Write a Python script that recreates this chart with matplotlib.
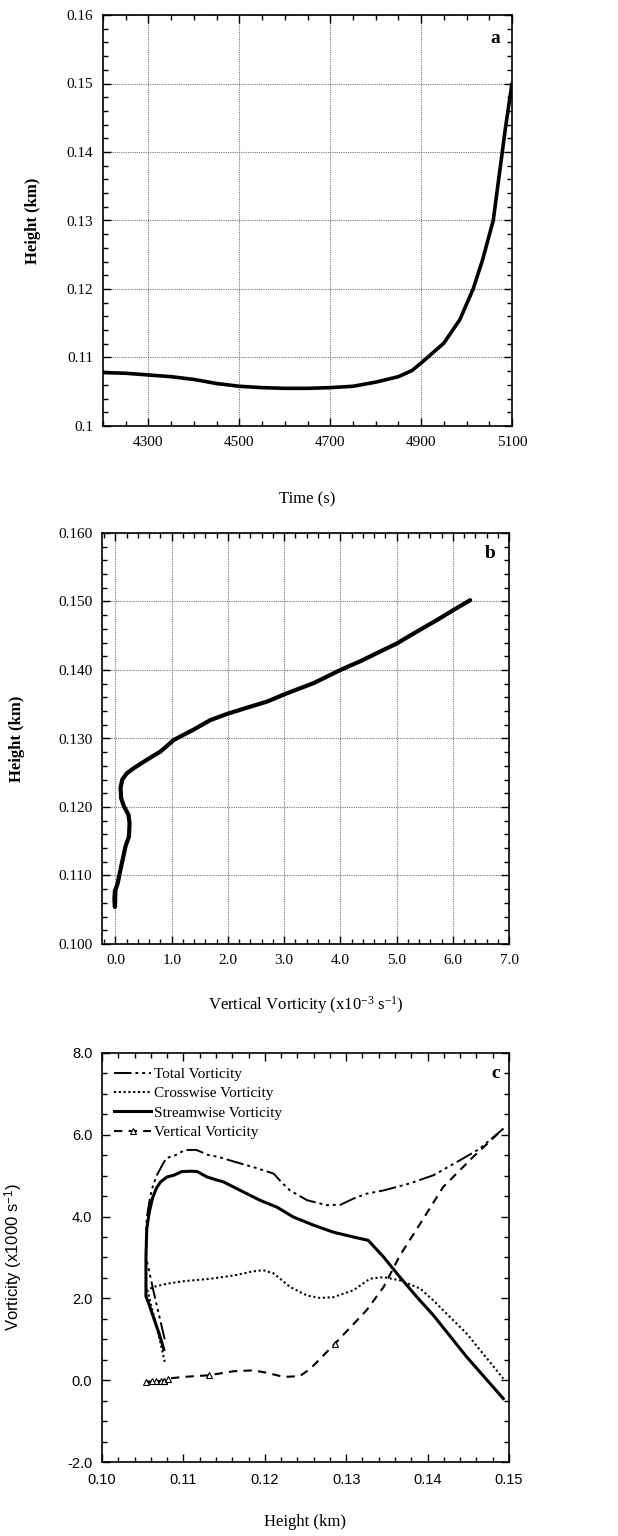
import matplotlib
matplotlib.use("Agg")
import matplotlib.pyplot as plt
from matplotlib.ticker import MultipleLocator, FormatStrFormatter

plt.rcParams['font.family'] = ['Liberation Serif', 'DejaVu Serif']
plt.rcParams['mathtext.fontset'] = 'custom'
plt.rcParams['mathtext.rm'] = 'Liberation Serif'
plt.rcParams['mathtext.it'] = 'Liberation Serif:italic'
plt.rcParams['mathtext.sf'] = 'Liberation Sans'

# ---------------- Panel a: height vs time ----------------
time_s = [4200, 4250, 4300, 4350, 4400, 4450, 4500, 4550, 4600, 4650, 4700, 4750, 4800, 4850,
          4880, 4900, 4914, 4950, 4985, 5014.5, 5035, 5058.7, 5078.6, 5086, 5100]
height_a = [0.1078, 0.1077, 0.10745, 0.1072, 0.1068, 0.1062, 0.1058, 0.1056, 0.1055, 0.1055,
            0.1056, 0.1058, 0.1064, 0.1072, 0.1081, 0.1092, 0.1100, 0.1121, 0.1155, 0.1200,
            0.1242, 0.1300, 0.1400, 0.1437, 0.1500]

# ---------------- Panel b: height vs vertical vorticity ----------------
vort_b = [-0.01, -0.02, -0.01, 0.0, 0.04, 0.10, 0.18, 0.24, 0.25, 0.23, 0.15, 0.10, 0.09, 0.12,
          0.20, 0.33, 0.56, 0.80, 1.04, 1.39, 1.69, 1.99, 2.34, 2.70, 3.05, 3.53, 4.00, 4.36,
          4.71, 5.01, 5.36, 5.72, 6.02, 6.31]
height_b = [0.1078, 0.1066, 0.1054, 0.1079, 0.1089, 0.1113, 0.1143, 0.1157, 0.1177, 0.1189,
            0.1201, 0.1213, 0.1228, 0.1240, 0.1249, 0.1257, 0.1269, 0.1281, 0.1298, 0.1313,
            0.1327, 0.1336, 0.1345, 0.1354, 0.1366, 0.1381, 0.1400, 0.1413, 0.1427, 0.1439,
            0.1456, 0.1473, 0.1488, 0.1502]

# ---------------- Panel c: vorticity components vs height ----------------
total_h = [0.1077, 0.1070, 0.1063, 0.1057, 0.1054, 0.1054, 0.1055, 0.1058, 0.1061, 0.1067, 0.1073,
           0.1079, 0.1090, 0.1102, 0.1116, 0.1130, 0.1143, 0.1163, 0.1186, 0.1211, 0.1220, 0.1231,
           0.1252, 0.1276, 0.1293, 0.1309, 0.1325, 0.1346, 0.1378, 0.1407, 0.1440, 0.1464, 0.1493]
total_v = [1.0, 1.6, 2.2, 2.75, 3.0, 3.5, 3.97, 4.35, 4.65, 5.0, 5.22, 5.43, 5.5, 5.63, 5.63, 5.51,
           5.46, 5.34, 5.21, 5.05, 4.85, 4.64, 4.40, 4.28, 4.29, 4.44, 4.56, 4.64, 4.81, 5.01,
           5.38, 5.66, 6.15]

cross_h = [0.1077, 0.1072, 0.1066, 0.1060, 0.1056, 0.1063, 0.1080, 0.1100, 0.1133, 0.1162, 0.1185,
           0.1198, 0.1211, 0.1231, 0.1252, 0.1268, 0.1284, 0.1309, 0.1329, 0.1346, 0.1366, 0.1391,
           0.1407, 0.1448, 0.1493]
cross_v = [0.45, 0.9, 1.4, 1.85, 2.2, 2.28, 2.36, 2.42, 2.48, 2.56, 2.66, 2.69, 2.61, 2.28, 2.07,
           2.01, 2.03, 2.20, 2.48, 2.52, 2.44, 2.24, 1.95, 1.14, 0.04]

stream_h = [0.1076, 0.1070, 0.1063, 0.1057, 0.1054, 0.1054, 0.1055, 0.1058, 0.1062, 0.1067, 0.1072,
            0.1080, 0.1088, 0.1098, 0.1110, 0.1117, 0.1129, 0.1140, 0.1149, 0.1170, 0.1194, 0.1215,
            0.1235, 0.1260, 0.1284, 0.1309, 0.1327, 0.1346, 0.1366, 0.1387, 0.1407, 0.1448, 0.1493]
stream_v = [0.75, 1.15, 1.55, 1.90, 2.05, 3.0, 3.7, 4.1, 4.45, 4.70, 4.85, 4.97, 5.01, 5.10, 5.11,
            5.10, 4.97, 4.90, 4.85, 4.64, 4.40, 4.23, 3.99, 3.79, 3.62, 3.50, 3.42, 3.01, 2.52,
            2.03, 1.59, 0.57, -0.45]

vert_h = [0.1076, 0.1066, 0.1061, 0.1054, 0.1073, 0.1076, 0.1081, 0.1100, 0.1131, 0.1162, 0.1186,
          0.1203, 0.1223, 0.1243, 0.1256, 0.1286, 0.1325, 0.1346, 0.1366, 0.1391, 0.1419, 0.1456,
          0.1493]
vert_v = [-0.02, -0.03, -0.03, -0.04, -0.03, -0.02, 0.04, 0.08, 0.12, 0.22, 0.24, 0.18, 0.08, 0.10,
          0.28, 0.89, 1.71, 2.28, 3.05, 3.83, 4.72, 5.46, 6.15]
vert_marks = [0, 1, 2, 3, 4, 5, 6, 8, 15]

legend_labels = ["Total Vorticity", "Crosswise Vorticity", "Streamwise Vorticity", "Vertical Vorticity"]

W, H = 618, 1536
fig = plt.figure(figsize=(W / 100, H / 100), dpi=100)


def box(l, r, t, b):
    return [l / W, 1 - b / H, (r - l) / W, (b - t) / H]


def style(ax):
    ax.tick_params(which='both', direction='in', top=True, right=True, width=1.0)
    ax.tick_params(which='major', length=6, pad=7, labelsize=11)
    ax.tick_params(which='minor', length=3.5)
    for s in ax.spines.values():
        s.set_linewidth(1.2)


# Panel a
axa = fig.add_axes(box(103, 512, 15, 426))
axa.plot(time_s, height_a, color='black', lw=2.6, solid_capstyle='round', solid_joinstyle='round')
axa.set_xlim(4200, 5100)
axa.set_ylim(0.1, 0.16)
axa.set_xticks([4300, 4500, 4700, 4900, 5100])
axa.xaxis.set_minor_locator(MultipleLocator(50))
axa.yaxis.set_minor_locator(MultipleLocator(0.002))
axa.set_yticks([0.1, 0.11, 0.12, 0.13, 0.14, 0.15, 0.16])
axa.set_yticklabels(['0.1', '0.11', '0.12', '0.13', '0.14', '0.15', '0.16'])
axa.grid(True, which='major', color='#777777', linestyle=(0, (1, 1)), linewidth=0.8)
style(axa)
axa.set_xlabel('Time (s)', fontsize=12)
axa.xaxis.set_label_coords(0.5, -0.158)
axa.set_ylabel('Height (km)', fontsize=12, fontweight='bold')
axa.yaxis.set_label_coords(-0.152, 0.5)
axa.text(0.958, 0.944, 'a', transform=axa.transAxes, fontsize=14, fontweight='bold',
         ha='center', va='center')

# Panel b
axb = fig.add_axes(box(102, 509, 533, 944))
axb.plot(vort_b, height_b, color='black', lw=3.0, solid_capstyle='round', solid_joinstyle='round')
axb.set_xlim(-0.24, 7.0)
axb.set_ylim(0.1, 0.16)
axb.xaxis.set_major_locator(MultipleLocator(1.0))
axb.xaxis.set_minor_locator(MultipleLocator(0.2))
axb.xaxis.set_major_formatter(FormatStrFormatter('%.1f'))
axb.yaxis.set_major_locator(MultipleLocator(0.01))
axb.yaxis.set_minor_locator(MultipleLocator(0.002))
axb.yaxis.set_major_formatter(FormatStrFormatter('%.3f'))
axb.grid(True, which='major', color='#777777', linestyle=(0, (1, 1)), linewidth=0.8)
style(axb)
axb.set_xlabel('Vertical Vorticity (x10$^{-3}$ s$^{-1}$)', fontsize=12)
axb.xaxis.set_label_coords(0.5, -0.122)
axb.set_ylabel('Height (km)', fontsize=12, fontweight='bold')
axb.yaxis.set_label_coords(-0.189, 0.5)
axb.text(0.953, 0.951, 'b', transform=axb.transAxes, fontsize=14, fontweight='bold',
         ha='center', va='center')

# Panel c
axc = fig.add_axes(box(102, 509, 1053, 1462))
axc.plot(total_h, total_v, color='black', lw=1.4,
         dashes=(9, 2, 1.5, 2, 1.5, 2, 1.5, 2), label=legend_labels[0])
axc.plot(cross_h, cross_v, color='black', lw=1.5, dashes=(1, 1.3), label=legend_labels[1])
axc.plot(stream_h, stream_v, color='black', lw=2.2, label=legend_labels[2])
axc.plot(vert_h, vert_v, color='black', lw=1.5, dashes=(4, 3), marker='^', markersize=4,
         markerfacecolor='white', markeredgewidth=0.8, markevery=vert_marks, label=legend_labels[3])
axc.set_xlim(0.10, 0.15)
axc.set_ylim(-2.0, 8.0)
axc.xaxis.set_major_locator(MultipleLocator(0.01))
axc.xaxis.set_minor_locator(MultipleLocator(0.002))
axc.xaxis.set_major_formatter(FormatStrFormatter('%.2f'))
axc.yaxis.set_major_locator(MultipleLocator(2.0))
axc.yaxis.set_minor_locator(MultipleLocator(0.5))
axc.yaxis.set_major_formatter(FormatStrFormatter('%.1f'))
style(axc)
for lab in axc.get_xticklabels() + axc.get_yticklabels():
    lab.set_fontfamily('Liberation Sans')
    lab.set_fontsize(10.5)
axc.tick_params(axis='x', pad=8)
axc.set_xlabel('Height (km)', fontsize=12)
axc.xaxis.set_label_coords(0.5, -0.127)
axc.set_ylabel('Vorticity (x1000 s$^{\\mathsf{-1}}$)', fontsize=12, fontfamily='Liberation Sans')
axc.yaxis.set_label_coords(-0.189, 0.5)
axc.text(0.968, 0.951, 'c', transform=axc.transAxes, fontsize=14, fontweight='bold',
         ha='center', va='center')
leg = axc.legend(loc='upper left', frameon=False, fontsize=11, handlelength=2.4,
                 handletextpad=0.2, labelspacing=0.37, borderaxespad=0.0, numpoints=1,
                 bbox_to_anchor=(0.015, 0.98))

fig.savefig('out.png', dpi=100)
